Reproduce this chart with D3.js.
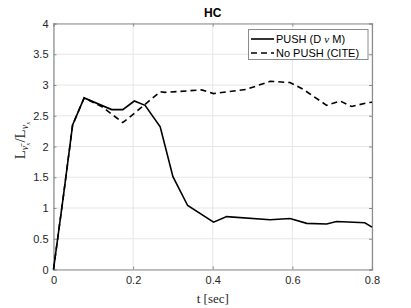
<!DOCTYPE html>
<html>
<head>
<meta charset="utf-8">
<script src="https://cdn.jsdelivr.net/npm/d3@7"></script>
<style>
  body { margin: 0; background: #fff; }
  svg { display: block; }
  .tick text { font-family: "Liberation Sans", Arial, sans-serif; font-size: 11px; fill: #262626; }
</style>
</head>
<body>
<svg id="chart" width="411" height="308"></svg>
<script>
// data
const pushT = [0, 0.025, 0.048, 0.077, 0.146, 0.174, 0.203, 0.23, 0.268, 0.3, 0.337, 0.402, 0.435, 0.544, 0.594, 0.636, 0.686, 0.711, 0.782, 0.8];
const pushV = [0, 1.2, 2.35, 2.79, 2.6, 2.6, 2.74, 2.67, 2.32, 1.51, 1.04, 0.77, 0.86, 0.81, 0.83, 0.75, 0.74, 0.78, 0.76, 0.69];
const noPushT = [0, 0.025, 0.048, 0.077, 0.121, 0.174, 0.203, 0.268, 0.28, 0.372, 0.402, 0.485, 0.544, 0.594, 0.627, 0.686, 0.72, 0.749, 0.787, 0.8];
const noPushV = [0, 1.2, 2.35, 2.79, 2.65, 2.39, 2.54, 2.89, 2.88, 2.92, 2.86, 2.93, 3.06, 3.04, 2.93, 2.67, 2.74, 2.65, 2.71, 2.72];
const xTicks = [0, 0.2, 0.4, 0.6, 0.8];
const yTicks = [0, 0.5, 1, 1.5, 2, 2.5, 3, 3.5, 4];
const seriesNames = [["PUSH (D ", "\u03BD", " M)"], ["No PUSH (CITE)"]];

(() => {
const svg = d3.select("svg#chart");
const pLeft = 53.5, pRight = 372, pTop = 23.5, pBottom = 269.5;

const x = d3.scaleLinear().domain([0, 0.8]).range([pLeft, pRight]);
const y = d3.scaleLinear().domain([0, 4]).range([pBottom, pTop]);

// grid
svg.append("g")
    .selectAll("line")
    .data(xTicks)
    .enter().append("line")
    .attr("x1", d => x(d)).attr("x2", d => x(d))
    .attr("y1", pTop).attr("y2", pBottom)
    .style("stroke", "#e6e6e6").style("stroke-width", 1);
svg.append("g")
    .selectAll("line")
    .data(yTicks)
    .enter().append("line")
    .attr("x1", pLeft).attr("x2", pRight)
    .attr("y1", d => y(d)).attr("y2", d => y(d))
    .style("stroke", "#e6e6e6").style("stroke-width", 1);

// axes
const xAxis = svg.append("g")
    .attr("transform", `translate(0, ${pBottom})`)
    .call(d3.axisBottom(x).tickValues(xTicks).tickSize(-3).tickPadding(7).tickFormat(d3.format("")));
const yAxis = svg.append("g")
    .attr("transform", `translate(${pLeft}, 0)`)
    .call(d3.axisLeft(y).tickValues(yTicks).tickSize(-3).tickPadding(5).tickFormat(d3.format("")));
const xAxisTop = svg.append("g")
    .attr("transform", `translate(0, ${pTop})`)
    .call(d3.axisTop(x).tickValues(xTicks).tickSize(-3).tickFormat(""));
const yAxisRight = svg.append("g")
    .attr("transform", `translate(${pRight}, 0)`)
    .call(d3.axisRight(y).tickValues(yTicks).tickSize(-3).tickFormat(""));
[xAxis, yAxis, xAxisTop, yAxisRight].forEach(a => {
    a.select(".domain").style("stroke", "#8c8c8c").style("stroke-width", 1.2);
    a.selectAll(".tick line").style("stroke", "#8c8c8c");
});

// lines
const line = d3.line().x(d => x(d[0])).y(d => y(d[1]));
svg.append("path")
    .datum(noPushT.map((t, i) => [t, noPushV[i]]))
    .attr("d", line)
    .style("fill", "none").style("stroke", "#000").style("stroke-width", 1.6)
    .style("stroke-dasharray", "6,4");
svg.append("path")
    .datum(pushT.map((t, i) => [t, pushV[i]]))
    .attr("d", line)
    .style("fill", "none").style("stroke", "#000").style("stroke-width", 1.6);

// title
svg.append("text")
    .attr("x", (pLeft + pRight) / 2)
    .attr("y", 17)
    .attr("text-anchor", "middle")
    .style("font-family", "Liberation Sans, Arial, sans-serif")
    .style("font-weight", "bold")
    .style("font-size", "12px")
    .text("HC");

// x label
const xl = svg.append("text")
    .attr("x", (pLeft + pRight) / 2)
    .attr("y", 303)
    .attr("text-anchor", "middle")
    .style("font-family", "Liberation Serif, serif")
    .style("font-size", "13px")
    .style("fill", "#262626");
xl.append("tspan").text("t  [sec]");

// y label
const yl = svg.append("text")
    .attr("transform", `translate(25, ${(pTop + pBottom) / 2 - 6}) rotate(-90)`)
    .attr("text-anchor", "middle")
    .style("font-family", "Liberation Serif, serif")
    .style("font-size", "15px")
    .style("fill", "#262626");
yl.append("tspan").text("L");
yl.append("tspan").attr("dy", 3).style("font-size", "10px").style("font-style", "italic").text("\u03BD\u0304");
yl.append("tspan").attr("dy", 2).style("font-size", "7px").style("font-style", "italic").text("x");
yl.append("tspan").attr("dy", -5).text("/L");
yl.append("tspan").attr("dy", 3).style("font-size", "10px").style("font-style", "italic").text("\u03BD");
yl.append("tspan").attr("dy", 2).style("font-size", "7px").style("font-style", "italic").text("x");

// legend
const legend = svg.append("g");
legend.append("rect")
    .attr("x", 248.5).attr("y", 29.5)
    .attr("width", 119.5).attr("height", 30)
    .style("fill", "#fff").style("stroke", "#8c8c8c").style("stroke-width", 1);
seriesNames.forEach((parts, i) => {
    const ly = 39 + i * 14;
    legend.append("line")
        .attr("x1", 251).attr("x2", 274)
        .attr("y1", ly).attr("y2", ly)
        .style("stroke", "#000").style("stroke-width", 1.6)
        .style("stroke-dasharray", i === 1 ? "6,4" : null);
    const t = legend.append("text")
        .attr("x", 276).attr("y", ly + 4)
        .style("font-family", "Liberation Sans, Arial, sans-serif")
        .style("font-size", "11px")
        .style("fill", "#000");
    parts.forEach((p, j) => {
        t.append("tspan")
            .style("font-family", j === 1 ? "Liberation Serif, serif" : null)
            .style("font-style", j === 1 ? "italic" : null)
            .text(p);
    });
});
})();
</script>
</body>
</html>
